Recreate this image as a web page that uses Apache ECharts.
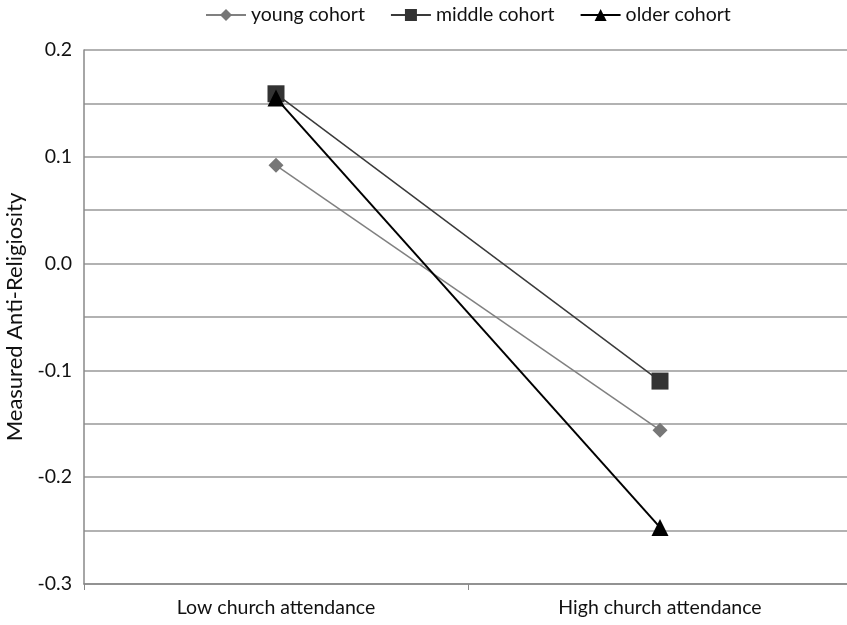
<!DOCTYPE html>
<html><head><meta charset="utf-8">
<script src="https://cdn.jsdelivr.net/npm/echarts@6/dist/echarts.min.js"></script>
<style>html,body{margin:0;padding:0;background:#fff}#c{width:847px;height:625px}</style>
</head><body><div id="c"></div>
<script>
var categories = ['Low church attendance', 'High church attendance'];
var youngCohort = [0.092, -0.156];
var middleCohort = [0.159, -0.110];
var olderCohort = [0.155, -0.247];
var seriesNames = ['young cohort', 'middle cohort', 'older cohort'];
var yMin = -0.3, yMax = 0.2, yStep = 0.05;

var font = 'Lato, "Open Sans", sans-serif';
var chart = echarts.init(document.getElementById('c'));
chart.setOption({
  animation: false,
  backgroundColor: '#fff',
  grid: { left: 84, width: 768, top: 50, bottom: 41, containLabel: false, outerBoundsMode: 'none' },
  legend: {
    top: 0, left: 200, itemGap: 25, itemWidth: 40, itemHeight: 15,
    textStyle: { fontFamily: font, fontSize: 19.5, color: '#111' },
    data: seriesNames
  },
  xAxis: {
    type: 'category', data: categories, boundaryGap: true,
    axisLine: { onZero: false, lineStyle: { color: '#888', width: 1.5 } },
    axisTick: { show: true, length: 6, lineStyle: { color: '#888' } },
    axisLabel: { fontFamily: font, fontSize: 19.5, color: '#111', margin: 14 }
  },
  yAxis: {
    type: 'value', min: yMin, max: yMax, interval: yStep,
    name: 'Measured Anti-Religiosity', nameLocation: 'middle', nameGap: 58,
    nameTextStyle: { fontFamily: font, fontSize: 22, color: '#111' },
    axisLine: { show: true, lineStyle: { color: '#888', width: 1.5 } },
    axisTick: { show: false },
    splitLine: { lineStyle: { color: '#999', width: 1.5 } },
    axisLabel: {
      fontFamily: font, fontSize: 19.5, color: '#111', margin: 12,
      formatter: function (v) {
        var k = Math.round(v * 100);
        if (k % 10 !== 0) return '';
        return (k / 100).toFixed(1);
      }
    }
  },
  series: [
    { name: seriesNames[0], type: 'line', data: youngCohort, symbol: 'diamond', symbolSize: 15,
      lineStyle: { color: '#808080', width: 1.5 }, itemStyle: { color: '#777' }, z: 2 },
    { name: seriesNames[1], type: 'line', data: middleCohort, symbol: 'rect', symbolSize: 17,
      lineStyle: { color: '#3a3a3a', width: 1.5 }, itemStyle: { color: '#333' }, z: 3 },
    { name: seriesNames[2], type: 'line', data: olderCohort, symbol: 'triangle', symbolSize: 17,
      lineStyle: { color: '#000', width: 2 }, itemStyle: { color: '#000' }, z: 4 }
  ]
});
</script></body></html>
